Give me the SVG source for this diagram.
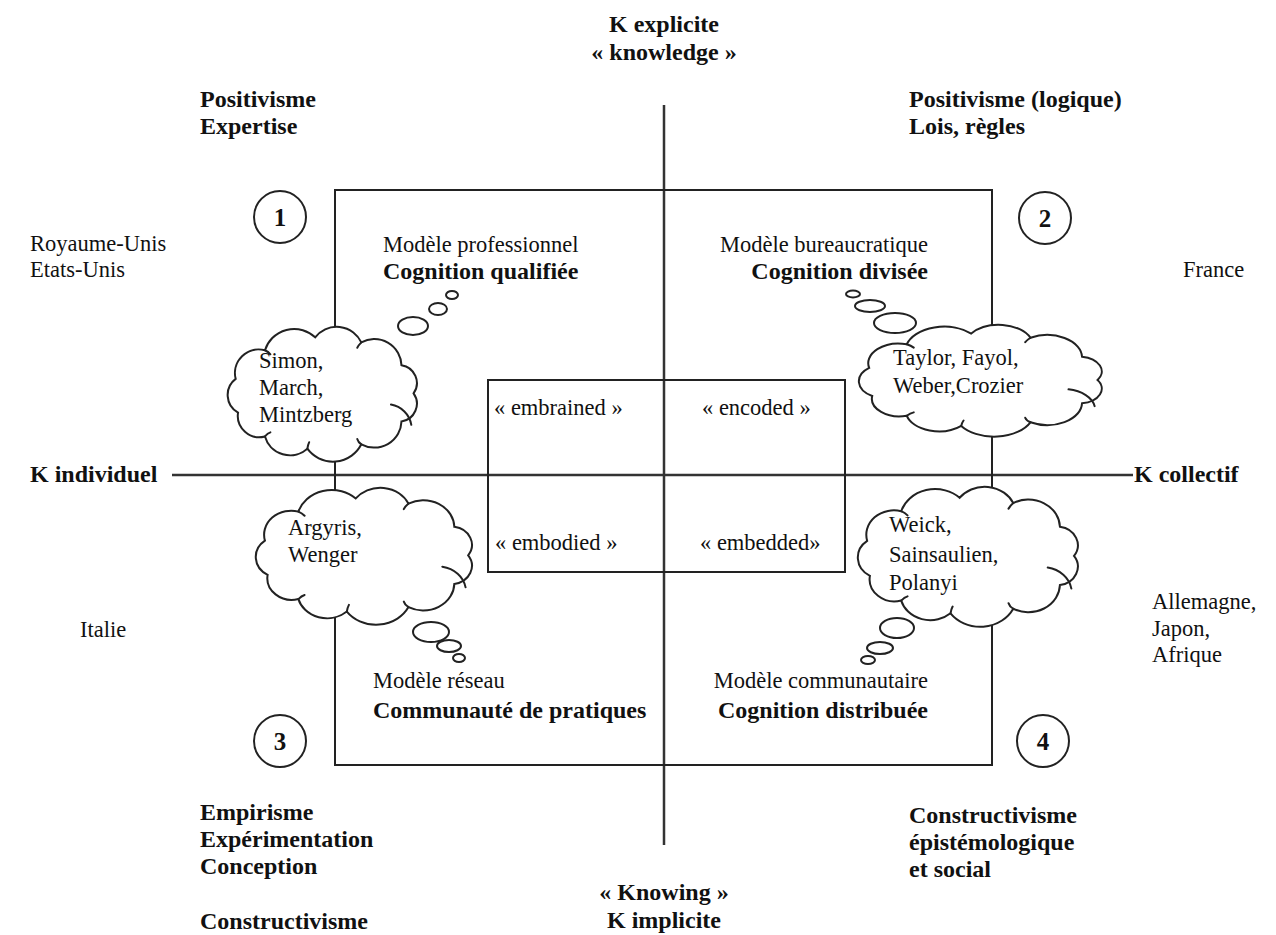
<svg xmlns="http://www.w3.org/2000/svg" width="1276" height="935" viewBox="0 0 1276 935">
<style>
text{font-family:"Liberation Serif","Times New Roman",serif;fill:#111}
.r{font-size:22.5px}
.b{font-size:24px;font-weight:bold}
.ln{stroke:#222;stroke-width:2;fill:none}
.ax{stroke:#333;stroke-width:2.5;fill:none}
.cl{fill:#fff;stroke:#222;stroke-width:2;vector-effect:non-scaling-stroke}
.ci{fill:none;stroke:#222;stroke-width:2;vector-effect:non-scaling-stroke;stroke-linecap:round}
.bub{fill:#fff;stroke:#222;stroke-width:2}
.num{fill:#fff;stroke:#222;stroke-width:2}
</style>
<defs>
<g id="cloud">
<path class="cl" d="M 180 70 A 16 16 0 0 1 169.3 95 A 24 24 0 0 1 133.8 115.3 A 28 28 0 0 1 86.1 119.2 A 23 23 0 0 1 48.6 108.3 A 19 19 0 0 1 24.8 87.1 A 18 18 0 0 1 22.7 57.1 A 21 21 0 0 1 48.6 31.7 A 27 27 0 0 1 93 20.2 A 24 24 0 0 1 133.8 24.7 A 24 24 0 0 1 169.3 45 A 16 16 0 0 1 180 70 Z"/>
<path class="ci" d="M 133.8 115.3 Q 131 113.5 130.2 110.5 M 86.1 119.2 Q 86.5 116 87.7 113.4 M 48.6 108.3 Q 51 105.5 53.4 104.7 M 48.6 31.7 Q 51.5 33 53.4 35.3 M 133.8 24.7 Q 131.5 27 130.2 29.5 M 160 80 A 22 22 0 0 1 178 98"/>
</g>
</defs>
<g id="connectors">
<line class="ax" x1="664" y1="105" x2="664" y2="845"/>
<line class="ax" x1="172" y1="475" x2="1133" y2="475"/>
<rect class="ln" x="335" y="190" width="657" height="575"/>
<rect class="ln" x="488" y="380" width="357" height="192"/>
</g>
<g id="axis-top">
<text class="b" x="664" y="32" text-anchor="middle">K explicite</text>
<text class="b" x="664" y="60" text-anchor="middle">« knowledge »</text>
</g>
<g id="axis-bottom">
<text class="b" x="664" y="900" text-anchor="middle">« Knowing »</text>
<text class="b" x="664" y="928" text-anchor="middle">K implicite</text>
</g>
<g id="axis-left"><text class="b" x="30" y="482">K individuel</text></g>
<g id="axis-right"><text class="b" x="1134" y="482">K collectif</text></g>
<g id="corner-tl"><text class="b" x="200" y="107">Positivisme</text><text class="b" x="200" y="134">Expertise</text></g>
<g id="corner-tr"><text class="b" x="909" y="107">Positivisme (logique)</text><text class="b" x="909" y="134">Lois, règles</text></g>
<g id="corner-bl"><text class="b" x="200" y="820">Empirisme</text><text class="b" x="200" y="847">Expérimentation</text><text class="b" x="200" y="874">Conception</text><text class="b" x="200" y="929">Constructivisme</text></g>
<g id="corner-br"><text class="b" x="909" y="823">Constructivisme</text><text class="b" x="909" y="850">épistémologique</text><text class="b" x="909" y="877">et social</text></g>
<g id="countries">
<text class="r" x="30" y="251">Royaume-Unis</text><text class="r" x="30" y="277">Etats-Unis</text>
<text class="r" x="1183" y="277">France</text>
<text class="r" x="80" y="637">Italie</text>
<text class="r" x="1152" y="609">Allemagne,</text><text class="r" x="1152" y="636">Japon,</text><text class="r" x="1152" y="662">Afrique</text>
</g>
<g id="n1"><circle class="num" cx="280" cy="217" r="26"/><text x="280" y="226" text-anchor="middle" style="font-size:25px;font-weight:bold">1</text></g>
<g id="n2"><circle class="num" cx="1045" cy="218" r="26"/><text x="1045" y="227" text-anchor="middle" style="font-size:25px;font-weight:bold">2</text></g>
<g id="n3"><circle class="num" cx="280" cy="741" r="26"/><text x="280" y="750" text-anchor="middle" style="font-size:25px;font-weight:bold">3</text></g>
<g id="n4"><circle class="num" cx="1043" cy="741" r="26"/><text x="1043" y="750" text-anchor="middle" style="font-size:25px;font-weight:bold">4</text></g>
<g id="q1">
<text class="r" x="383" y="252">Modèle professionnel</text>
<text class="b" x="383" y="279">Cognition qualifiée</text>
</g>
<g id="q2">
<text class="r" x="928" y="252" text-anchor="end">Modèle bureaucratique</text>
<text class="b" x="928" y="279" text-anchor="end">Cognition divisée</text>
</g>
<g id="q3">
<text class="r" x="373" y="688">Modèle réseau</text>
<text class="b" x="373" y="718">Communauté de pratiques</text>
</g>
<g id="q4">
<text class="r" x="928" y="688" text-anchor="end">Modèle communautaire</text>
<text class="b" x="928" y="718" text-anchor="end">Cognition distribuée</text>
</g>
<g id="inner">
<text class="r" x="494" y="415">« embrained »</text>
<text class="r" x="702" y="415">« encoded »</text>
<text class="r" x="495" y="550">« embodied »</text>
<text class="r" x="700" y="550">« embedded»</text>
</g>
<g id="cloud1">
<use href="#cloud" transform="translate(210 314.6) scale(1.131 1.125)"/>
<ellipse class="bub" cx="413" cy="326" rx="15" ry="9"/>
<ellipse class="bub" cx="438" cy="309" rx="9" ry="6"/>
<ellipse class="bub" cx="452" cy="295" rx="6" ry="4"/>
<text class="r" x="259" y="368">Simon,</text>
<text class="r" x="259" y="395">March,</text>
<text class="r" x="259" y="422">Mintzberg</text>
</g>
<g id="cloud2">
<use href="#cloud" transform="translate(836.2 314.7) scale(1.452 0.933)"/>
<ellipse class="bub" cx="895" cy="323" rx="21" ry="10"/>
<ellipse class="bub" cx="870" cy="306" rx="15" ry="6"/>
<ellipse class="bub" cx="853" cy="294" rx="7" ry="3.5"/>
<text class="r" x="893" y="365">Taylor, Fayol,</text>
<text class="r" x="893" y="393">Weber,Crozier</text>
</g>
<g id="cloud3">
<use href="#cloud" transform="translate(235.6 475.4) scale(1.292 1.142)"/>
<ellipse class="bub" cx="431" cy="632" rx="18" ry="10"/>
<ellipse class="bub" cx="449" cy="646" rx="12" ry="6"/>
<ellipse class="bub" cx="459" cy="658" rx="6" ry="4"/>
<text class="r" x="288" y="535">Argyris,</text>
<text class="r" x="288" y="562">Wenger</text>
</g>
<g id="cloud4">
<use href="#cloud" transform="translate(837.3 474.2) scale(1.315 1.167)"/>
<ellipse class="bub" cx="897" cy="628" rx="17" ry="10"/>
<ellipse class="bub" cx="880" cy="648" rx="13" ry="6"/>
<ellipse class="bub" cx="868" cy="660" rx="7" ry="4"/>
<text class="r" x="889" y="532">Weick,</text>
<text class="r" x="889" y="562">Sainsaulien,</text>
<text class="r" x="889" y="590">Polanyi</text>
</g>
</svg>
